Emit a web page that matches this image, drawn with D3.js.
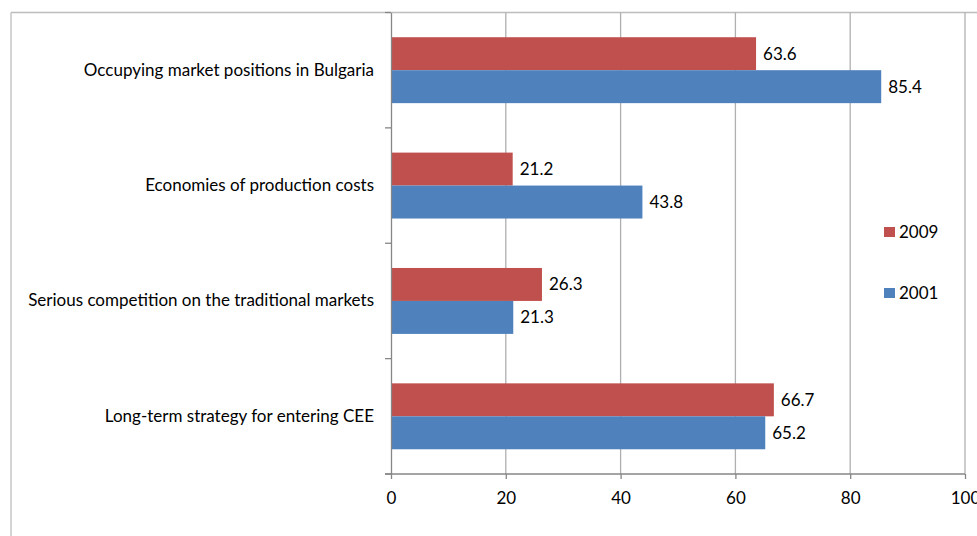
<!DOCTYPE html>
<html><head><meta charset="utf-8">
<script src="https://cdn.jsdelivr.net/npm/d3@7"></script>
<style>body{margin:0;background:#fff}svg{display:block}text{font-family:Lato,"Open Sans",sans-serif;fill:#000}</style>
</head><body><svg id="c" width="977" height="536"></svg>
<script>
const categories = ["Occupying market positions in Bulgaria","Economies of production costs","Serious competition on the traditional markets","Long-term strategy for entering CEE"];
const series = ["2009","2001"];
const values2009 = [63.6, 21.2, 26.3, 66.7];
const values2001 = [85.4, 43.8, 21.3, 65.2];
const xTicks = [0,20,40,60,80,100];
const colors = {"2009":"#C0504D","2001":"#4F81BD"};
const FS = "17px";

const svg = d3.select("#c");
const L = 391, R = 965, T = 12.5, B = 474;
// frame
svg.append("line").attr("x1",11).attr("x2",977).attr("y1",12.5).attr("y2",12.5).attr("stroke","#bdbdbd").attr("stroke-width",1.3);
svg.append("line").attr("x1",11).attr("x2",11).attr("y1",12.5).attr("y2",536).attr("stroke","#bdbdbd").attr("stroke-width",1.3);

const x = d3.scaleLinear().domain([0,100]).range([L,R]);
const y = d3.scaleBand().domain(categories).range([T,B]).paddingInner(150/350).paddingOuter(75/350);
const ys = d3.scaleBand().domain(series).range([0,y.bandwidth()]);

// gridlines
svg.append("g").selectAll("line").data(xTicks.filter(d=>d>0)).join("line")
  .attr("x1",d=>x(d)).attr("x2",d=>x(d)).attr("y1",T).attr("y2",B)
  .attr("stroke","#b0b0b0").attr("stroke-width",1.3);

const data = categories.map((c,i)=>({c, vals:[{s:"2009",v:values2009[i]},{s:"2001",v:values2001[i]}]}));
const g = svg.append("g");
const grp = g.selectAll("g").data(data).join("g").attr("transform",d=>`translate(0,${y(d.c)})`);
grp.selectAll("rect").data(d=>d.vals).join("rect")
  .attr("x",x(0)).attr("y",d=>ys(d.s)).attr("width",d=>x(d.v)-x(0)).attr("height",ys.bandwidth())
  .attr("fill",d=>colors[d.s]);
grp.selectAll("text").data(d=>d.vals).join("text")
  .attr("x",d=>x(d.v)+7).attr("y",d=>ys(d.s)+ys.bandwidth()/2).attr("dy","0.35em")
  .style("font-size",FS).text(d=>d.v.toFixed(1));

// y axis
const yAxis = d3.axisLeft(y).tickSize(0).tickPadding(17);
const yg = svg.append("g").attr("transform",`translate(${L},0)`).call(yAxis);
yg.select(".domain").attr("stroke","#868686").attr("stroke-width",1.3);
yg.selectAll("text").style("font-size",FS).attr("font-family",null);
const bounds = [T].concat(categories.map(c=>y(c)+y.bandwidth()+y.step()*y.paddingInner()/2));
bounds[bounds.length-1]=B;
svg.append("g").selectAll("line").data(bounds).join("line")
  .attr("x1",L-6).attr("x2",L).attr("y1",d=>d).attr("y2",d=>d).attr("stroke","#868686").attr("stroke-width",1.3);

// x axis
const xAxis = d3.axisBottom(x).tickValues(xTicks).tickSize(5).tickPadding(13);
const xg = svg.append("g").attr("transform",`translate(0,${B})`).call(xAxis);
xg.select(".domain").attr("stroke","#868686").attr("stroke-width",1.3).attr("d",`M${L-6},0H${R}`);
xg.selectAll(".tick line").attr("stroke","#868686").attr("stroke-width",1.3);
xg.selectAll("text").style("font-size",FS).attr("font-family",null);

// legend
const leg = svg.append("g");
const legY = {"2009":232,"2001":293};
series.forEach(s=>{
  leg.append("rect").attr("x",884).attr("y",legY[s]-5).attr("width",11).attr("height",10).attr("fill",colors[s]);
  leg.append("text").attr("x",899).attr("y",legY[s]).attr("dy","0.35em").style("font-size",FS).text(s);
});
</script></body></html>
